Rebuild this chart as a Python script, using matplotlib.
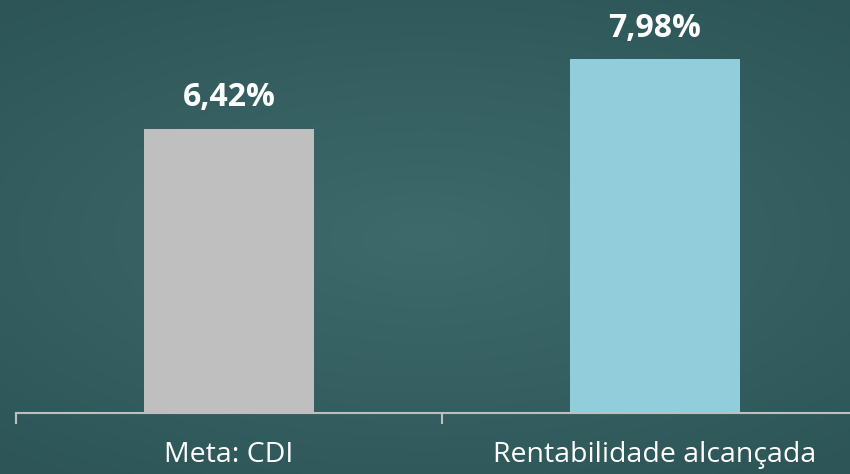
import numpy as np
import matplotlib
matplotlib.use("Agg")
from matplotlib import pyplot as plt
from matplotlib.colors import LinearSegmentedColormap

# dados
categorias = ["Meta: CDI", "Rentabilidade alcançada"]
valores = [6.42, 7.98]
rotulos = ["6,42%", "7,98%"]
cores = ["#BFBFBF", "#92CDDC"]

plt.rcParams['font.family'] = ['Open Sans', 'DejaVu Sans']

fig = plt.figure(figsize=(8.5, 4.74), dpi=100)

# fundo tipo quadro-negro (gradiente radial suave)
fundo = fig.add_axes([0, 0, 1, 1], zorder=0)
yy, xx = np.mgrid[-1:1:200j, -1:1:360j]
r = np.sqrt((xx * 0.9) ** 2 + (yy * 1.1) ** 2)
cmap = LinearSegmentedColormap.from_list("quadro", ["#3e6a6b", "#2d5557"])
fundo.imshow(r, cmap=cmap, aspect="auto", extent=[0, 1, 0, 1], vmin=0, vmax=1.4)
fundo.axis("off")

# eixo principal
ax = fig.add_axes([16 / 850, 61 / 474, 852 / 850, 413 / 474], zorder=1)
ax.patch.set_alpha(0)
x = np.arange(len(categorias))
barras = ax.bar(x, valores, width=0.4, color=cores, zorder=2)

for b, rot in zip(barras, rotulos):
    ax.annotate(rot, (b.get_x() + b.get_width() / 2, b.get_height()),
                xytext=(0, 16), textcoords="offset points",
                ha="center", va="baseline", color="white",
                fontsize=23, fontweight="bold")

ax.set_xlim(-0.5, 1.5)
ax.set_ylim(0, 9.32)
for lado in ["top", "right", "left"]:
    ax.spines[lado].set_visible(False)
ax.spines["bottom"].set_color("#BFBFBF")
ax.spines["bottom"].set_linewidth(1.5)
ax.set_yticks([])
ax.set_xticks(x)
ax.set_xticklabels(categorias, color="white", fontsize=20.5)
ax.tick_params(axis="x", which="major", length=0, pad=20)
ax.set_xticks([-0.5, 0.5, 1.5], minor=True)
ax.tick_params(axis="x", which="minor", length=8, width=1.5, color="#BFBFBF")

fig.savefig("out.png", dpi=100)
